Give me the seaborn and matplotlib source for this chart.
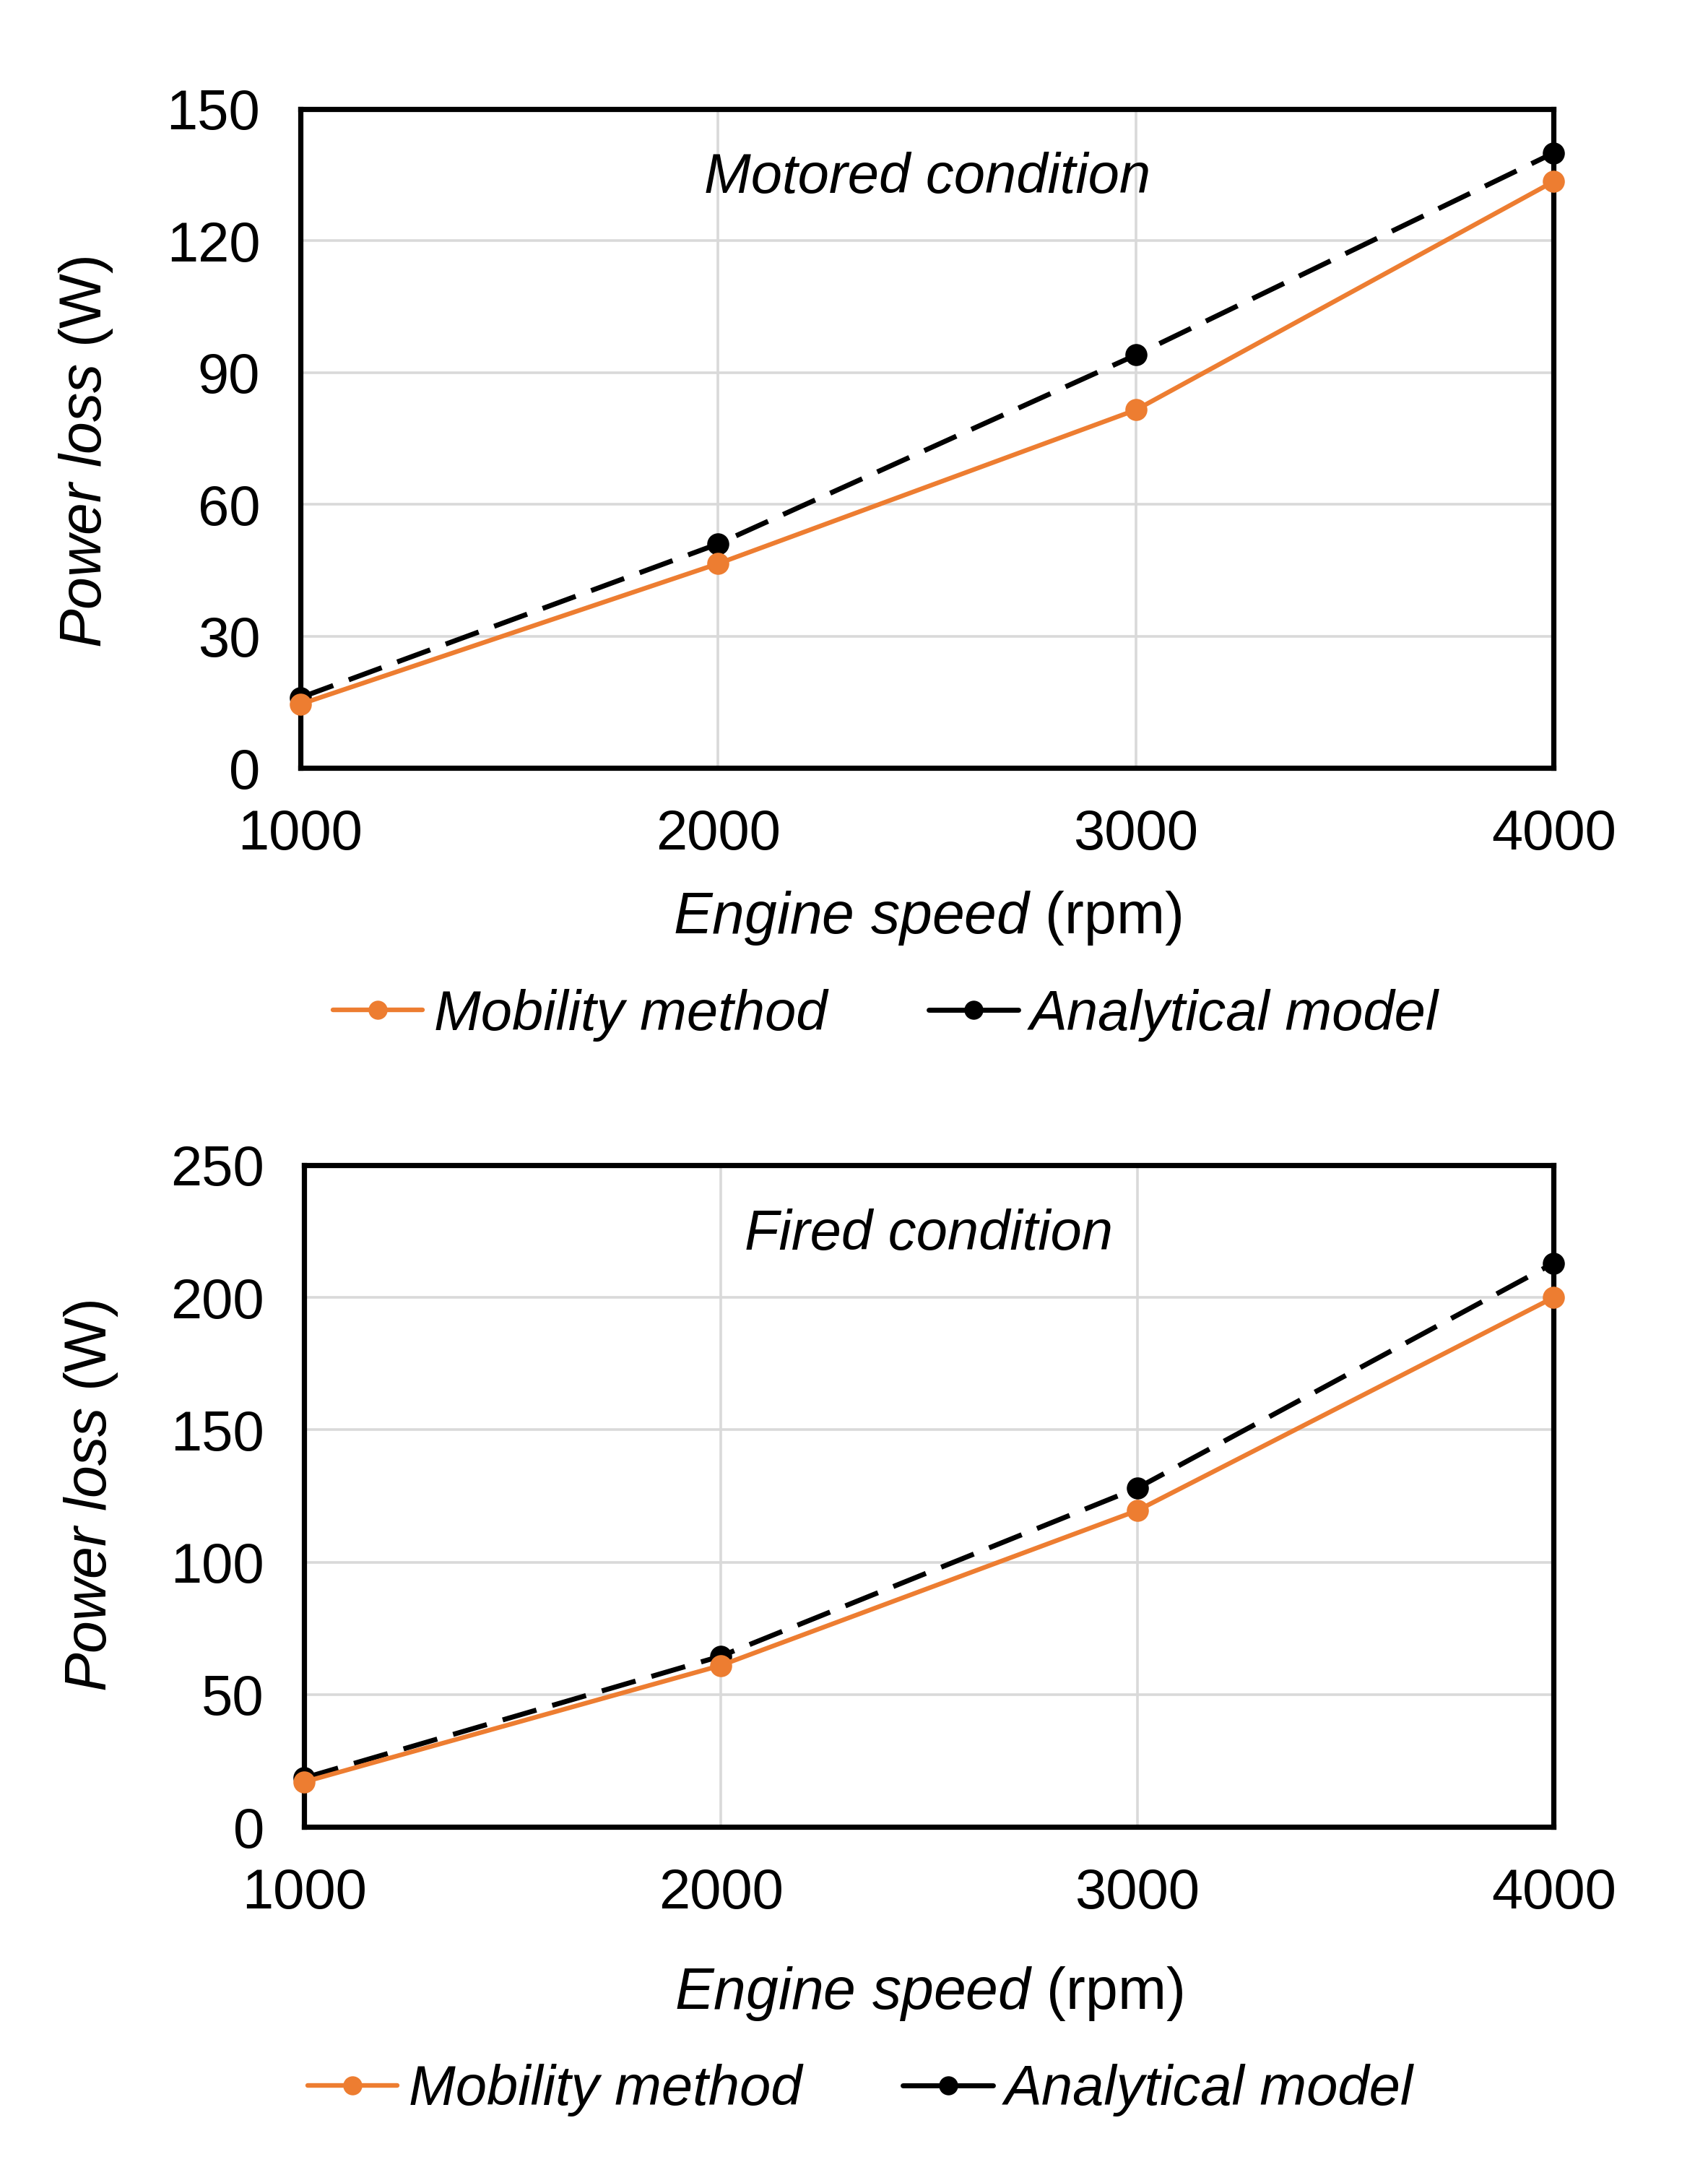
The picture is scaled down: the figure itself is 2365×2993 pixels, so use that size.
import numpy as np
import pandas as pd
import seaborn as sns
import matplotlib
matplotlib.use("Agg")
import matplotlib.pyplot as plt

speeds = [1000, 2000, 3000, 4000]
motored_mobility = [14.5, 46.5, 81.5, 133.5]
motored_analytical = [16.0, 51.0, 94.0, 140.0]
fired_mobility = [17.0, 61.0, 119.5, 200.0]
fired_analytical = [18.5, 64.5, 128.0, 213.0]
series_names = ["Mobility method", "Analytical model"]

sns.set_theme(style="whitegrid")
plt.rcParams['font.family'] = ['Liberation Sans', 'DejaVu Sans']
plt.rcParams['mathtext.fontset'] = 'custom'
plt.rcParams['mathtext.it'] = 'Liberation Sans:italic'
plt.rcParams['mathtext.rm'] = 'Liberation Sans'
plt.rcParams['text.color'] = 'black'
plt.rcParams['axes.labelcolor'] = 'black'

ORANGE = "#ED7D31"
FS = 56

fig = plt.figure(figsize=(23.65, 29.93), dpi=100)
ax1 = fig.add_axes([0.1758, 0.6448, 0.9097 - 0.1758, 0.9496 - 0.6448])
ax2 = fig.add_axes([0.1782, 0.155, 0.9097 - 0.1782, 0.4611 - 0.155])

panels = [
    (ax1, motored_mobility, motored_analytical, 150, [0, 30, 60, 90, 120, 150],
     "Motored condition", 0.467, 0.48, -0.228, -0.375),
    (ax2, fired_mobility, fired_analytical, 250, [0, 50, 100, 150, 200, 250],
     "Fired condition", 0.445, 0.50, -0.252, -0.398),
]

for ax, mob, ana, ymax, yt, title, legx, ylab_y, xlab_y, leg_y in panels:
    df = pd.DataFrame({
        "speed": speeds * 2,
        "loss": mob + ana,
        "series": [series_names[0]] * 4 + [series_names[1]] * 4,
    })
    sns.lineplot(data=df[df.series == series_names[1]], x="speed", y="loss", ax=ax,
                 color="black", lw=5.0, marker="o", markersize=22, markeredgewidth=0,
                 linestyle=(0, (7, 3.3)), clip_on=False, zorder=3,
                 label=series_names[1], legend=False)
    sns.lineplot(data=df[df.series == series_names[0]], x="speed", y="loss", ax=ax,
                 color=ORANGE, lw=4.6, marker="o", markersize=22, markeredgewidth=0,
                 clip_on=False, zorder=4, label=series_names[0], legend=False)
    ax.set_xlim(1000, 4000)
    ax.set_ylim(0, ymax)
    ax.set_xticks(speeds)
    ax.set_yticks(yt)
    ax.tick_params(axis="x", length=0, labelsize=FS, pad=40, colors="black")
    ax.tick_params(axis="y", length=0, labelsize=FS, pad=40, colors="black")
    ax.grid(True, color="#d9d9d9", lw=2.6)
    for s in ax.spines.values():
        s.set_color("black")
        s.set_linewidth(5.2)
        s.set_visible(True)
    ax.set_xlabel(r"$\it{Engine\ speed}$ (rpm)", fontsize=FS + 2, color="black")
    ax.xaxis.label.set_va("center")
    ax.xaxis.set_label_coords(0.5, xlab_y)
    ax.set_ylabel(r"$\it{Power\ loss}$ (W)", fontsize=FS + 2, color="black")
    ax.yaxis.label.set_va("center")
    ax.yaxis.set_label_coords(-0.171, ylab_y)
    ax.text(0.5, 0.895, title, transform=ax.transAxes, ha="center", va="center",
            fontsize=FS, style="italic", color="black")
    lines = ax.get_lines()
    handles = [lines[1], lines[0]]
    leg = ax.legend(handles, series_names, loc="center", bbox_to_anchor=(legx, leg_y),
                    ncol=2, frameon=False, handlelength=1.6,
                    handletextpad=0.2, columnspacing=1.8,
                    prop={"style": "italic", "size": FS})
    for l in leg.get_lines():
        l.set_linestyle("-")
        l.set_markersize(19)
    for t in leg.get_texts():
        t.set_color("black")

fig.savefig("out.png", dpi=100, facecolor="white")
